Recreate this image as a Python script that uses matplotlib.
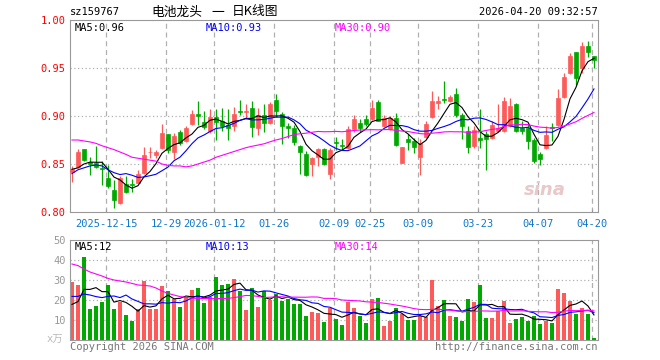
import numpy as np
import pandas as pd
import matplotlib
matplotlib.use("Agg")
import matplotlib.pyplot as plt

plt.rcParams['font.family'] = ['DejaVu Sans Mono', 'Noto Sans CJK SC']

# daily K data
open_ = [0.842, 0.847, 0.866, 0.852, 0.851, 0.846, 0.835, 0.823, 0.809, 0.829,
         0.829, 0.830, 0.841, 0.862, 0.859, 0.867, 0.881, 0.862, 0.883, 0.874,
         0.892, 0.902, 0.894, 0.884, 0.899, 0.895, 0.891, 0.890, 0.905, 0.904,
         0.908, 0.887, 0.901, 0.893, 0.917, 0.902, 0.890, 0.887, 0.869, 0.860,
         0.850, 0.857, 0.866, 0.840, 0.873, 0.870, 0.867, 0.886, 0.893, 0.897,
         0.897, 0.915, 0.890, 0.886, 0.898, 0.851, 0.876, 0.874, 0.857, 0.878,
         0.899, 0.914, 0.918, 0.916, 0.923, 0.901, 0.884, 0.869, 0.877, 0.881,
         0.877, 0.884, 0.884, 0.890, 0.913, 0.888, 0.887, 0.875, 0.860, 0.867,
         0.889, 0.891, 0.920, 0.945, 0.967, 0.950, 0.973, 0.962]
high = [0.848, 0.866, 0.866, 0.857, 0.869, 0.853, 0.849, 0.833, 0.838, 0.838,
        0.834, 0.844, 0.868, 0.868, 0.865, 0.892, 0.881, 0.882, 0.885, 0.890,
        0.906, 0.916, 0.905, 0.907, 0.907, 0.908, 0.907, 0.909, 0.917, 0.912,
        0.916, 0.908, 0.912, 0.915, 0.923, 0.904, 0.893, 0.891, 0.870, 0.864,
        0.857, 0.867, 0.867, 0.867, 0.878, 0.876, 0.890, 0.901, 0.897, 0.901,
        0.917, 0.917, 0.901, 0.900, 0.903, 0.868, 0.881, 0.877, 0.876, 0.895,
        0.926, 0.921, 0.936, 0.922, 0.929, 0.903, 0.890, 0.890, 0.907, 0.884,
        0.895, 0.912, 0.920, 0.919, 0.914, 0.895, 0.893, 0.877, 0.862, 0.890,
        0.893, 0.928, 0.945, 0.966, 0.967, 0.977, 0.978, 0.962]
low = [0.831, 0.846, 0.853, 0.839, 0.846, 0.828, 0.825, 0.804, 0.808, 0.820,
       0.821, 0.830, 0.840, 0.856, 0.856, 0.866, 0.861, 0.855, 0.870, 0.873,
       0.891, 0.891, 0.886, 0.882, 0.875, 0.884, 0.875, 0.884, 0.901, 0.897,
       0.878, 0.880, 0.883, 0.892, 0.899, 0.871, 0.877, 0.870, 0.840, 0.838,
       0.838, 0.848, 0.849, 0.834, 0.865, 0.865, 0.866, 0.883, 0.883, 0.890,
       0.896, 0.895, 0.889, 0.885, 0.869, 0.851, 0.865, 0.861, 0.839, 0.877,
       0.898, 0.907, 0.914, 0.915, 0.899, 0.876, 0.861, 0.867, 0.867, 0.844,
       0.876, 0.883, 0.883, 0.889, 0.883, 0.881, 0.866, 0.851, 0.849, 0.866,
       0.874, 0.890, 0.919, 0.944, 0.932, 0.945, 0.961, 0.950]
close = [0.845, 0.863, 0.854, 0.850, 0.847, 0.845, 0.827, 0.813, 0.835, 0.821,
         0.828, 0.840, 0.859, 0.863, 0.862, 0.882, 0.865, 0.879, 0.872, 0.888,
         0.902, 0.900, 0.889, 0.899, 0.894, 0.890, 0.887, 0.902, 0.904, 0.905,
         0.889, 0.901, 0.893, 0.912, 0.905, 0.890, 0.888, 0.873, 0.863, 0.839,
         0.856, 0.866, 0.850, 0.865, 0.872, 0.869, 0.886, 0.897, 0.888, 0.892,
         0.908, 0.895, 0.898, 0.898, 0.870, 0.868, 0.873, 0.868, 0.872, 0.892,
         0.916, 0.916, 0.917, 0.920, 0.901, 0.890, 0.868, 0.885, 0.875, 0.876,
         0.891, 0.887, 0.916, 0.910, 0.884, 0.884, 0.874, 0.853, 0.855, 0.880,
         0.887, 0.919, 0.941, 0.962, 0.940, 0.973, 0.967, 0.958]
volume = [29.2, 27.5, 41.7, 15.3, 17.2, 19.2, 27.5, 15.5, 19.2, 12.5,
          9.5, 15.3, 29.5, 15.5, 15.5, 27.0, 24.5, 20.5, 16.7, 21.3,
          25.0, 26.0, 18.7, 21.3, 31.5, 27.5, 28.2, 30.5, 24.5, 15.0,
          26.0, 16.5, 24.5, 20.0, 23.0, 19.5, 20.5, 18.0, 18.0, 12.0,
          14.0, 13.5, 9.2, 16.2, 10.5, 7.5, 19.2, 16.0, 12.0, 8.5,
          20.5, 21.0, 7.0, 9.5, 16.0, 13.0, 10.0, 10.0, 12.0, 11.7,
          30.0, 17.0, 20.0, 12.0, 11.5, 9.5, 20.5, 19.0, 27.5, 11.0,
          11.0, 14.5, 19.5, 8.5, 10.5, 11.5, 9.7, 12.0, 8.0, 9.5,
          8.5, 25.5, 23.5, 19.5, 13.0, 16.0, 13.0, 1.2]

# moving average values at the start of the window (history not shown)
ma5_head = [0.8445, 0.846, 0.850, 0.852]
ma10_head = [0.840, 0.844, 0.846, 0.848, 0.849, 0.848, 0.844, 0.841, 0.839]
ma30_head = [0.875, 0.875, 0.874, 0.873, 0.8715, 0.869, 0.867, 0.865, 0.8625, 0.860,
             0.857, 0.856, 0.855, 0.854, 0.853, 0.850, 0.8486, 0.848, 0.848, 0.847,
             0.848, 0.850, 0.852, 0.854, 0.857, 0.859, 0.861, 0.863, 0.865]
vma5_head = [17.8, 19.2, 25.3, 25.3]
vma10_head = [21.8, 21.8, 23.0, 22.5, 21.7, 21.2, 21.8, 22.0, 21.2]
vma30_head = [38.0, 37.2, 35.5, 34.0, 33.0, 32.0, 30.8, 30.0, 29.5, 29.0,
              28.3, 27.5, 27.3, 27.0, 26.0, 24.5, 23.3, 22.5, 21.7, 21.3,
              20.9, 20.8, 20.7, 20.7, 20.7, 20.8, 20.8, 21.2, 21.7]

tick_pos = [6, 16, 24, 34, 44, 50, 58, 68, 78, 87]
tick_lab = ['2025-12-15', '12-29', '2026-01-12', '01-26', '02-09', '02-25',
            '03-09', '03-23', '04-07', '04-20']

df = pd.DataFrame({'open': open_, 'high': high, 'low': low, 'close': close, 'vol': volume})


def moving(s, n, head):
    m = s.rolling(n).mean()
    m.iloc[:n - 1] = head
    return m


df['ma5'] = moving(df.close, 5, ma5_head)
df['ma10'] = moving(df.close, 10, ma10_head)
df['ma30'] = moving(df.close, 30, ma30_head)
df['vma5'] = moving(df.vol, 5, vma5_head)
df['vma10'] = moving(df.vol, 10, vma10_head)
df['vma30'] = moving(df.vol, 30, vma30_head)

RED = '#ff5a5a'
GREEN = '#00a800'
GRID = '#b0b0b0'
FRAME = '#999999'

x = np.arange(len(df))
up = df.close >= df.open
colors = np.where(up, RED, GREEN)

fig = plt.figure(figsize=(6.6, 3.6), dpi=100)
ax = fig.add_axes([70 / 660, 1 - 212 / 360, 528 / 660, 192 / 360])
axv = fig.add_axes([70 / 660, 1 - 340 / 360, 528 / 660, 100 / 360])

xmin, xmax = -0.33, 87.67
grid_x = [p - 0.33 for p in tick_pos]

# price panel
ax.set_xlim(xmin, xmax)
ax.set_ylim(0.80, 1.00)
for g in [0.85, 0.90, 0.95]:
    ax.axhline(g, color=GRID, lw=0.9, ls=(0, (1, 2)), zorder=0)
for gx in grid_x:
    ax.axvline(gx, color=GRID, lw=0.9, ls=(0, (4, 3)), zorder=0)

ax.vlines(x, df.low, df.high, colors=colors, lw=0.9, zorder=2)
body = np.abs(df.close - df.open)
bottom = np.minimum(df.close, df.open)
ax.bar(x, body, bottom=bottom, width=0.72, color=colors, edgecolor=colors, lw=0.5, zorder=3)

ax.plot(x, df.ma5, color='black', lw=0.8, zorder=4)
ax.plot(x, df.ma10, color='#0000ff', lw=0.8, zorder=4)
ax.plot(x, df.ma30, color='#ff00ff', lw=0.8, zorder=4)

ax.set_yticks([0.80, 0.85, 0.90, 0.95, 1.00])
ax.set_yticklabels(['0.80', '0.85', '0.90', '0.95', '1.00'])
ax.tick_params(axis='y', length=0, pad=3, labelsize=7.5, labelcolor='#ff0000')
ax.set_xticks(grid_x)
ax.set_xticklabels(tick_lab)
ax.tick_params(axis='x', direction='in', length=2, color=FRAME, pad=5,
               labelsize=7.5, labelcolor='#1177cc')
for s in ax.spines.values():
    s.set_color(FRAME)

ax.text(0.008, 0.985, 'MA5:0.96', transform=ax.transAxes, fontsize=7.5, color='black', va='top')
ax.text(0.257, 0.985, 'MA10:0.93', transform=ax.transAxes, fontsize=7.5, color='#0000ff', va='top')
ax.text(0.502, 0.985, 'MA30:0.90', transform=ax.transAxes, fontsize=7.5, color='#ff00ff', va='top')
ax.text(0.90, 0.09, 'sina', transform=ax.transAxes, fontsize=13, color='#e8c8c8',
        fontstyle='italic', fontweight='bold', family='DejaVu Sans', ha='center', zorder=1)

# volume panel
axv.set_xlim(xmin, xmax)
axv.set_ylim(0, 50)
for g in [10, 20, 30, 40]:
    axv.axhline(g, color=GRID, lw=0.9, ls=(0, (1, 2)), zorder=0)
for gx in grid_x:
    axv.axvline(gx, color=GRID, lw=0.9, ls=(0, (4, 3)), zorder=0)
axv.bar(x, df.vol, width=0.82, color=colors, zorder=2)
axv.plot(x, df.vma5, color='black', lw=0.8, zorder=3)
axv.plot(x, df.vma10, color='#0000ff', lw=0.8, zorder=3)
axv.plot(x, df.vma30, color='#ff00ff', lw=0.8, zorder=3)
axv.set_yticks([10, 20, 30, 40, 50])
axv.set_yticklabels(['10', '20', '30', '40', '50'])
axv.tick_params(axis='y', length=0, pad=3, labelsize=7.5, labelcolor='#999999')
axv.set_xticks([])
for s in axv.spines.values():
    s.set_color(FRAME)
axv.text(-0.012, 0.0, 'x万', transform=axv.transAxes, fontsize=7.5, color='#bbbbbb',
         ha='right', va='center')
axv.text(0.008, 0.985, 'MA5:12', transform=axv.transAxes, fontsize=7.5, color='black', va='top')
axv.text(0.257, 0.985, 'MA10:13', transform=axv.transAxes, fontsize=7.5, color='#0000ff', va='top')
axv.text(0.502, 0.985, 'MA30:14', transform=axv.transAxes, fontsize=7.5, color='#ff00ff', va='top')

# header and footer
cjk = ['Noto Sans CJK SC', 'DejaVu Sans']
fig.text(70 / 660, 1 - 12 / 360, 'sz159767', fontsize=7.5, color='black', va='center')
fig.text(151 / 660, 1 - 12 / 360, '电池龙头', fontsize=9.2, color='black', va='center', family=cjk)
fig.text(211 / 660, 1 - 12 / 360, '一', fontsize=9.2, color='black', va='center', family=cjk)
fig.text(232 / 660, 1 - 12 / 360, '日K线图', fontsize=9.2, color='black', va='center', family=cjk)
fig.text(598 / 660, 1 - 12 / 360, '2026-04-20 09:32:57', fontsize=7.5, color='black',
         va='center', ha='right')
fig.text(70 / 660, 1 - 347 / 360, 'Copyright 2026 SINA.COM', fontsize=7.5, color='#777777', va='center')
fig.text(598 / 660, 1 - 347 / 360, 'http://finance.sina.com.cn', fontsize=7.5, color='#777777',
         va='center', ha='right')

fig.savefig('out.png', dpi=100)
